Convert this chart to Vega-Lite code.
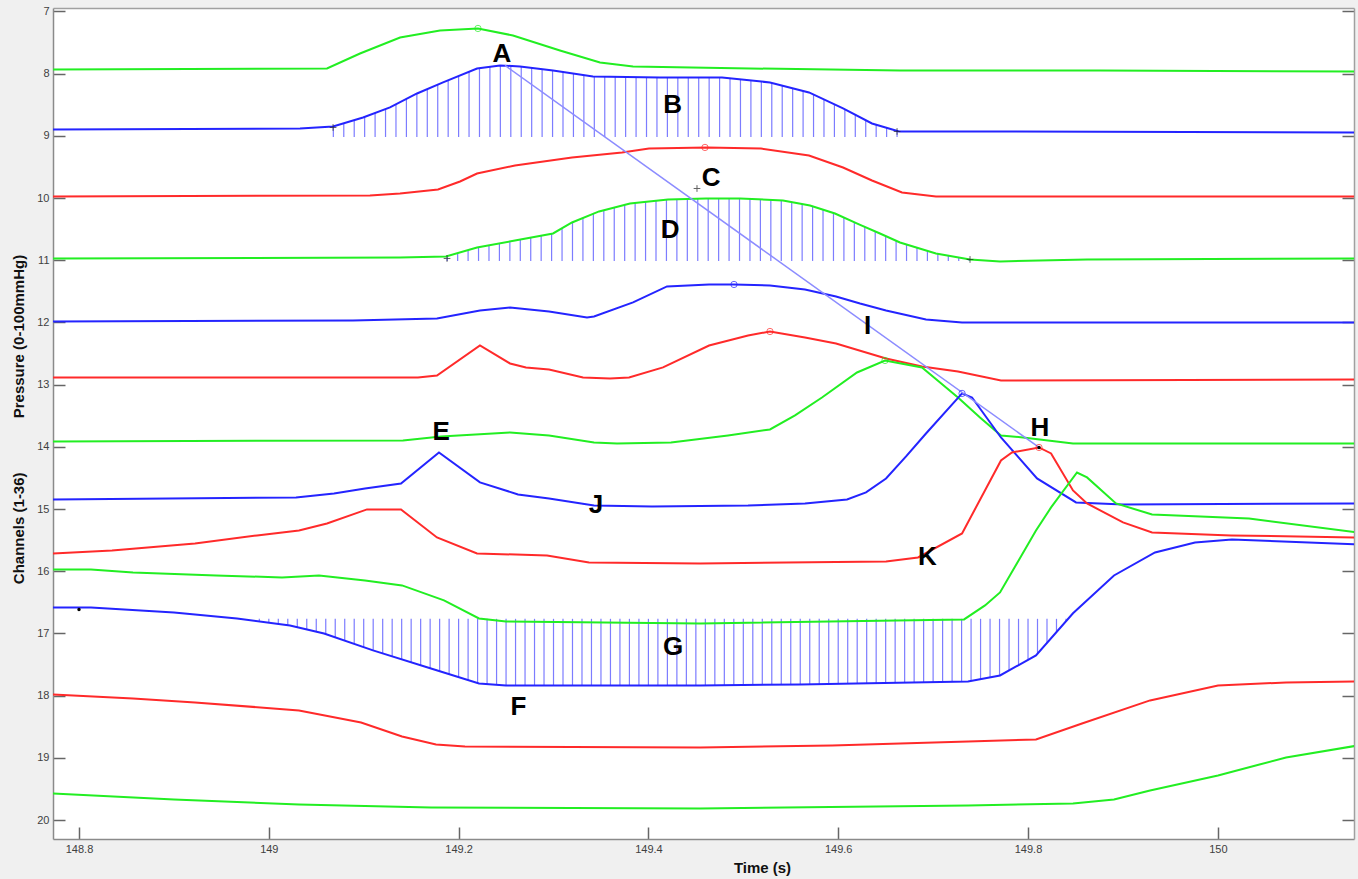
{
"$schema":"https://vega.github.io/schema/vega-lite/v6.json",
"width":1301,"height":831,
"autosize":{"type":"none"},
"padding":{"left":53,"top":8,"right":4,"bottom":40},
"background":"#f0f0f0",
"config":{"view":{"fill":"white","stroke":null},"font":"Liberation Sans",
 "axis":{"grid":false,"domainColor":"#8a8a8a","domainWidth":1.5,"tickColor":"#666666","tickWidth":1.5,"tickSize":-12,"labelColor":"#404040","labelFontSize":11,"labelFont":"Liberation Sans","titleFont":"Liberation Sans","titleFontSize":15,"titleFontWeight":"bold","titleColor":"#111111"}},
"datasets":{
"lines":[
{"s":"g1","t":148.7726,"v":7.932},{"s":"g1","t":149.0613,"v":7.916},{"s":"g1","t":149.0961,"v":7.675},{"s":"g1","t":149.1383,"v":7.418},{"s":"g1","t":149.1804,"v":7.305},{"s":"g1","t":149.2204,"v":7.273},{"s":"g1","t":149.2573,"v":7.386},{"s":"g1","t":149.3068,"v":7.627},{"s":"g1","t":149.349,"v":7.82},{"s":"g1","t":149.3838,"v":7.884},{"s":"g1","t":149.5071,"v":7.916},{"s":"g1","t":149.6651,"v":7.949},{"s":"g1","t":149.8759,"v":7.949},{"s":"g1","t":150.1477,"v":7.965},
{"s":"b2","t":148.7726,"v":8.897},{"s":"b2","t":149.0329,"v":8.881},{"s":"b2","t":149.0677,"v":8.849},{"s":"b2","t":149.0993,"v":8.704},{"s":"b2","t":149.1277,"v":8.543},{"s":"b2","t":149.1562,"v":8.318},{"s":"b2","t":149.1836,"v":8.141},{"s":"b2","t":149.2194,"v":7.916},{"s":"b2","t":149.2436,"v":7.868},{"s":"b2","t":149.2647,"v":7.884},{"s":"b2","t":149.2995,"v":7.949},{"s":"b2","t":149.3416,"v":8.045},{"s":"b2","t":149.4122,"v":8.061},{"s":"b2","t":149.4776,"v":8.061},{"s":"b2","t":149.5281,"v":8.141},{"s":"b2","t":149.5692,"v":8.302},{"s":"b2","t":149.6051,"v":8.559},{"s":"b2","t":149.6356,"v":8.801},{"s":"b2","t":149.6641,"v":8.929},{"s":"b2","t":149.7705,"v":8.929},{"s":"b2","t":150.1477,"v":8.945},
{"s":"r3","t":148.7726,"v":9.974},{"s":"r3","t":149.1066,"v":9.958},{"s":"r3","t":149.1383,"v":9.926},{"s":"r3","t":149.1783,"v":9.862},{"s":"r3","t":149.2015,"v":9.733},{"s":"r3","t":149.2194,"v":9.605},{"s":"r3","t":149.2594,"v":9.476},{"s":"r3","t":149.3195,"v":9.347},{"s":"r3","t":149.3722,"v":9.267},{"s":"r3","t":149.4006,"v":9.203},{"s":"r3","t":149.4617,"v":9.186},{"s":"r3","t":149.5187,"v":9.203},{"s":"r3","t":149.5692,"v":9.315},{"s":"r3","t":149.6051,"v":9.508},{"s":"r3","t":149.6356,"v":9.717},{"s":"r3","t":149.6672,"v":9.91},{"s":"r3","t":149.703,"v":9.974},{"s":"r3","t":150.1477,"v":9.974},
{"s":"g4","t":148.7726,"v":10.971},{"s":"g4","t":149.1383,"v":10.955},{"s":"g4","t":149.1867,"v":10.939},{"s":"g4","t":149.2194,"v":10.794},{"s":"g4","t":149.2594,"v":10.682},{"s":"g4","t":149.2995,"v":10.569},{"s":"g4","t":149.3195,"v":10.392},{"s":"g4","t":149.348,"v":10.215},{"s":"g4","t":149.3806,"v":10.087},{"s":"g4","t":149.4207,"v":10.023},{"s":"g4","t":149.4607,"v":10.006},{"s":"g4","t":149.4965,"v":10.006},{"s":"g4","t":149.5418,"v":10.039},{"s":"g4","t":149.5703,"v":10.119},{"s":"g4","t":149.5966,"v":10.248},{"s":"g4","t":149.6219,"v":10.424},{"s":"g4","t":149.644,"v":10.569},{"s":"g4","t":149.6651,"v":10.714},{"s":"g4","t":149.703,"v":10.891},{"s":"g4","t":149.7389,"v":10.987},{"s":"g4","t":149.7705,"v":11.019},{"s":"g4","t":149.8622,"v":10.987},{"s":"g4","t":150.1477,"v":10.971},
{"s":"b5","t":148.7726,"v":11.984},{"s":"b5","t":149.0887,"v":11.968},{"s":"b5","t":149.1772,"v":11.936},{"s":"b5","t":149.2225,"v":11.807},{"s":"b5","t":149.2542,"v":11.759},{"s":"b5","t":149.2953,"v":11.823},{"s":"b5","t":149.3353,"v":11.92},{"s":"b5","t":149.3427,"v":11.904},{"s":"b5","t":149.3838,"v":11.678},{"s":"b5","t":149.4196,"v":11.421},{"s":"b5","t":149.4639,"v":11.389},{"s":"b5","t":149.4902,"v":11.389},{"s":"b5","t":149.5281,"v":11.405},{"s":"b5","t":149.565,"v":11.469},{"s":"b5","t":149.5977,"v":11.582},{"s":"b5","t":149.623,"v":11.695},{"s":"b5","t":149.6504,"v":11.807},{"s":"b5","t":149.6925,"v":11.952},{"s":"b5","t":149.7305,"v":12.0},{"s":"b5","t":150.1477,"v":12.0},
{"s":"r6","t":148.7726,"v":12.884},{"s":"r6","t":149.1572,"v":12.884},{"s":"r6","t":149.1772,"v":12.852},{"s":"r6","t":149.2225,"v":12.37},{"s":"r6","t":149.2542,"v":12.659},{"s":"r6","t":149.271,"v":12.723},{"s":"r6","t":149.2953,"v":12.756},{"s":"r6","t":149.3311,"v":12.884},{"s":"r6","t":149.3595,"v":12.9},{"s":"r6","t":149.3796,"v":12.884},{"s":"r6","t":149.4154,"v":12.723},{"s":"r6","t":149.4639,"v":12.37},{"s":"r6","t":149.505,"v":12.209},{"s":"r6","t":149.5281,"v":12.145},{"s":"r6","t":149.565,"v":12.241},{"s":"r6","t":149.5977,"v":12.338},{"s":"r6","t":149.6504,"v":12.579},{"s":"r6","t":149.6883,"v":12.707},{"s":"r6","t":149.7262,"v":12.788},{"s":"r6","t":149.7715,"v":12.932},{"s":"r6","t":150.1477,"v":12.916},
{"s":"g7","t":148.7726,"v":13.913},{"s":"g7","t":149.1414,"v":13.897},{"s":"g7","t":149.1815,"v":13.833},{"s":"g7","t":149.2542,"v":13.768},{"s":"g7","t":149.2953,"v":13.817},{"s":"g7","t":149.3427,"v":13.929},{"s":"g7","t":149.3669,"v":13.945},{"s":"g7","t":149.4238,"v":13.929},{"s":"g7","t":149.4839,"v":13.817},{"s":"g7","t":149.5281,"v":13.72},{"s":"g7","t":149.5545,"v":13.495},{"s":"g7","t":149.5829,"v":13.206},{"s":"g7","t":149.6198,"v":12.804},{"s":"g7","t":149.6493,"v":12.611},{"s":"g7","t":149.6883,"v":12.723},{"s":"g7","t":149.7073,"v":12.965},{"s":"g7","t":149.7262,"v":13.206},{"s":"g7","t":149.7494,"v":13.527},{"s":"g7","t":149.7715,"v":13.817},{"s":"g7","t":149.7947,"v":13.849},{"s":"g7","t":149.8474,"v":13.945},{"s":"g7","t":150.1477,"v":13.945},
{"s":"b8","t":148.7726,"v":14.846},{"s":"b8","t":149.0287,"v":14.814},{"s":"b8","t":149.0687,"v":14.749},{"s":"b8","t":149.1014,"v":14.669},{"s":"b8","t":149.1393,"v":14.588},{"s":"b8","t":149.1793,"v":14.09},{"s":"b8","t":149.2225,"v":14.572},{"s":"b8","t":149.2626,"v":14.765},{"s":"b8","t":149.2953,"v":14.83},{"s":"b8","t":149.3427,"v":14.942},{"s":"b8","t":149.4038,"v":14.958},{"s":"b8","t":149.505,"v":14.942},{"s":"b8","t":149.565,"v":14.91},{"s":"b8","t":149.6093,"v":14.846},{"s":"b8","t":149.6293,"v":14.733},{"s":"b8","t":149.6504,"v":14.508},{"s":"b8","t":149.6715,"v":14.154},{"s":"b8","t":149.6925,"v":13.785},{"s":"b8","t":149.7305,"v":13.141},{"s":"b8","t":149.741,"v":13.206},{"s":"b8","t":149.7715,"v":13.849},{"s":"b8","t":149.8095,"v":14.508},{"s":"b8","t":149.8506,"v":14.894},{"s":"b8","t":149.9001,"v":14.926},{"s":"b8","t":150.1477,"v":14.91},
{"s":"r9","t":148.7726,"v":15.714},{"s":"r9","t":148.8348,"v":15.666},{"s":"r9","t":148.9222,"v":15.553},{"s":"r9","t":148.9876,"v":15.424},{"s":"r9","t":149.0318,"v":15.344},{"s":"r9","t":149.0613,"v":15.232},{"s":"r9","t":149.1035,"v":15.006},{"s":"r9","t":149.1393,"v":15.006},{"s":"r9","t":149.1772,"v":15.457},{"s":"r9","t":149.2194,"v":15.714},{"s":"r9","t":149.2932,"v":15.746},{"s":"r9","t":149.3374,"v":15.859},{"s":"r9","t":149.4544,"v":15.875},{"s":"r9","t":149.545,"v":15.859},{"s":"r9","t":149.6504,"v":15.842},{"s":"r9","t":149.6841,"v":15.778},{"s":"r9","t":149.7305,"v":15.392},{"s":"r9","t":149.7715,"v":14.219},{"s":"r9","t":149.7831,"v":14.09},{"s":"r9","t":149.8116,"v":14.01},{"s":"r9","t":149.8243,"v":14.106},{"s":"r9","t":149.8474,"v":14.701},{"s":"r9","t":149.8622,"v":14.91},{"s":"r9","t":149.9001,"v":15.215},{"s":"r9","t":149.9307,"v":15.376},{"s":"r9","t":150.0139,"v":15.424},{"s":"r9","t":150.1477,"v":15.457},
{"s":"g10","t":148.7726,"v":15.971},{"s":"g10","t":148.8126,"v":15.971},{"s":"g10","t":148.8569,"v":16.019},{"s":"g10","t":148.9444,"v":16.068},{"s":"g10","t":149.0139,"v":16.1},{"s":"g10","t":149.0529,"v":16.068},{"s":"g10","t":149.1014,"v":16.148},{"s":"g10","t":149.1404,"v":16.228},{"s":"g10","t":149.1846,"v":16.469},{"s":"g10","t":149.2215,"v":16.759},{"s":"g10","t":149.2499,"v":16.807},{"s":"g10","t":149.4544,"v":16.839},{"s":"g10","t":149.7326,"v":16.775},{"s":"g10","t":149.7547,"v":16.55},{"s":"g10","t":149.7705,"v":16.341},{"s":"g10","t":149.8084,"v":15.344},{"s":"g10","t":149.8243,"v":14.974},{"s":"g10","t":149.8516,"v":14.412},{"s":"g10","t":149.8622,"v":14.492},{"s":"g10","t":149.8927,"v":14.91},{"s":"g10","t":149.9307,"v":15.087},{"s":"g10","t":150.0329,"v":15.151},{"s":"g10","t":150.1477,"v":15.376},
{"s":"b11","t":148.7726,"v":16.582},{"s":"b11","t":148.8126,"v":16.582},{"s":"b11","t":148.9001,"v":16.662},{"s":"b11","t":148.9665,"v":16.759},{"s":"b11","t":149.0223,"v":16.871},{"s":"b11","t":149.0582,"v":17.0},{"s":"b11","t":149.1098,"v":17.273},{"s":"b11","t":149.1709,"v":17.563},{"s":"b11","t":149.2215,"v":17.804},{"s":"b11","t":149.2499,"v":17.836},{"s":"b11","t":149.4544,"v":17.836},{"s":"b11","t":149.5597,"v":17.82},{"s":"b11","t":149.7368,"v":17.772},{"s":"b11","t":149.7705,"v":17.675},{"s":"b11","t":149.8084,"v":17.354},{"s":"b11","t":149.8474,"v":16.675},{"s":"b11","t":149.8906,"v":16.068},{"s":"b11","t":149.9338,"v":15.698},{"s":"b11","t":149.976,"v":15.537},{"s":"b11","t":150.0149,"v":15.489},{"s":"b11","t":150.1477,"v":15.569},
{"s":"r12","t":148.7726,"v":17.981},{"s":"r12","t":148.8569,"v":18.045},{"s":"r12","t":148.9222,"v":18.109},{"s":"r12","t":149.0318,"v":18.238},{"s":"r12","t":149.0972,"v":18.431},{"s":"r12","t":149.1404,"v":18.656},{"s":"r12","t":149.1762,"v":18.785},{"s":"r12","t":149.2067,"v":18.817},{"s":"r12","t":149.4544,"v":18.833},{"s":"r12","t":149.5935,"v":18.801},{"s":"r12","t":149.7368,"v":18.736},{"s":"r12","t":149.8084,"v":18.704},{"s":"r12","t":149.8569,"v":18.447},{"s":"r12","t":149.9286,"v":18.077},{"s":"r12","t":150.0002,"v":17.836},{"s":"r12","t":150.0719,"v":17.788},{"s":"r12","t":150.1477,"v":17.772},
{"s":"g13","t":148.7726,"v":19.572},{"s":"g13","t":148.9001,"v":19.669},{"s":"g13","t":149.0318,"v":19.749},{"s":"g13","t":149.1709,"v":19.797},{"s":"g13","t":149.4544,"v":19.814},{"s":"g13","t":149.7368,"v":19.765},{"s":"g13","t":149.8474,"v":19.733},{"s":"g13","t":149.8906,"v":19.669},{"s":"g13","t":149.9286,"v":19.524},{"s":"g13","t":150.0002,"v":19.283},{"s":"g13","t":150.0719,"v":18.994},{"s":"g13","t":150.1477,"v":18.801}
],
"hatch":[
{"t":149.068,"a":8.849,"b":9.018},{"t":149.079,"a":8.799,"b":9.018},{"t":149.090,"a":8.748,"b":9.018},{"t":149.101,"a":8.696,"b":9.018},{"t":149.112,"a":8.633,"b":9.018},{"t":149.123,"a":8.571,"b":9.018},{"t":149.134,"a":8.495,"b":9.018},{"t":149.145,"a":8.408,"b":9.018},{"t":149.156,"a":8.322,"b":9.018},{"t":149.167,"a":8.249,"b":9.018},{"t":149.178,"a":8.178,"b":9.018},{"t":149.189,"a":8.109,"b":9.018},{"t":149.200,"a":8.040,"b":9.018},{"t":149.211,"a":7.971,"b":9.018},{"t":149.222,"a":7.912,"b":9.018},{"t":149.233,"a":7.889,"b":9.018},{"t":149.244,"a":7.868,"b":9.018},{"t":149.255,"a":7.876,"b":9.018},{"t":149.266,"a":7.886,"b":9.018},{"t":149.277,"a":7.907,"b":9.018},{"t":149.288,"a":7.926,"b":9.018},{"t":149.299,"a":7.947,"b":9.018},{"t":149.310,"a":7.973,"b":9.018},{"t":149.321,"a":7.997,"b":9.018},{"t":149.332,"a":8.023,"b":9.018},{"t":149.343,"a":8.045,"b":9.018},{"t":149.354,"a":8.048,"b":9.018},{"t":149.365,"a":8.050,"b":9.018},{"t":149.376,"a":8.053,"b":9.018},{"t":149.387,"a":8.055,"b":9.018},{"t":149.398,"a":8.058,"b":9.018},{"t":149.409,"a":8.061,"b":9.018},{"t":149.420,"a":8.061,"b":9.018},{"t":149.431,"a":8.061,"b":9.018},{"t":149.442,"a":8.061,"b":9.018},{"t":149.453,"a":8.061,"b":9.018},{"t":149.464,"a":8.061,"b":9.018},{"t":149.475,"a":8.061,"b":9.018},{"t":149.486,"a":8.074,"b":9.018},{"t":149.497,"a":8.092,"b":9.018},{"t":149.508,"a":8.109,"b":9.018},{"t":149.519,"a":8.127,"b":9.018},{"t":149.530,"a":8.150,"b":9.018},{"t":149.541,"a":8.193,"b":9.018},{"t":149.552,"a":8.236,"b":9.018},{"t":149.563,"a":8.278,"b":9.018},{"t":149.574,"a":8.338,"b":9.018},{"t":149.585,"a":8.416,"b":9.018},{"t":149.596,"a":8.495,"b":9.018},{"t":149.607,"a":8.576,"b":9.018},{"t":149.618,"a":8.664,"b":9.018},{"t":149.629,"a":8.751,"b":9.018},{"t":149.640,"a":8.822,"b":9.018},{"t":149.651,"a":8.871,"b":9.018},{"t":149.662,"a":8.921,"b":9.018},
{"t":149.188,"a":10.934,"b":11.011},{"t":149.199,"a":10.886,"b":11.011},{"t":149.210,"a":10.836,"b":11.011},{"t":149.221,"a":10.791,"b":11.011},{"t":149.232,"a":10.760,"b":11.011},{"t":149.243,"a":10.730,"b":11.011},{"t":149.254,"a":10.698,"b":11.011},{"t":149.265,"a":10.667,"b":11.011},{"t":149.276,"a":10.635,"b":11.011},{"t":149.287,"a":10.605,"b":11.011},{"t":149.298,"a":10.574,"b":11.011},{"t":149.309,"a":10.487,"b":11.011},{"t":149.320,"a":10.391,"b":11.011},{"t":149.331,"a":10.322,"b":11.011},{"t":149.342,"a":10.254,"b":11.011},{"t":149.353,"a":10.196,"b":11.011},{"t":149.364,"a":10.153,"b":11.011},{"t":149.375,"a":10.109,"b":11.011},{"t":149.386,"a":10.079,"b":11.011},{"t":149.397,"a":10.061,"b":11.011},{"t":149.408,"a":10.043,"b":11.011},{"t":149.419,"a":10.026,"b":11.011},{"t":149.430,"a":10.019,"b":11.011},{"t":149.441,"a":10.014,"b":11.011},{"t":149.452,"a":10.010,"b":11.011},{"t":149.463,"a":10.006,"b":11.011},{"t":149.474,"a":10.006,"b":11.011},{"t":149.485,"a":10.006,"b":11.011},{"t":149.496,"a":10.006,"b":11.011},{"t":149.507,"a":10.014,"b":11.011},{"t":149.518,"a":10.021,"b":11.011},{"t":149.529,"a":10.029,"b":11.011},{"t":149.540,"a":10.037,"b":11.011},{"t":149.551,"a":10.064,"b":11.011},{"t":149.562,"a":10.095,"b":11.011},{"t":149.573,"a":10.132,"b":11.011},{"t":149.584,"a":10.185,"b":11.011},{"t":149.595,"a":10.240,"b":11.011},{"t":149.606,"a":10.312,"b":11.011},{"t":149.617,"a":10.389,"b":11.011},{"t":149.628,"a":10.463,"b":11.011},{"t":149.639,"a":10.535,"b":11.011},{"t":149.650,"a":10.609,"b":11.011},{"t":149.661,"a":10.685,"b":11.011},{"t":149.672,"a":10.746,"b":11.011},{"t":149.683,"a":10.796,"b":11.011},{"t":149.694,"a":10.847,"b":11.011},{"t":149.705,"a":10.895,"b":11.011},{"t":149.716,"a":10.924,"b":11.011},{"t":149.727,"a":10.955,"b":11.011},{"t":149.738,"a":10.984,"b":11.011},
{"t":148.99,"a":16.765,"b":16.805},{"t":149.00,"a":16.765,"b":16.826},{"t":149.01,"a":16.765,"b":16.846},{"t":149.02,"a":16.765,"b":16.866},{"t":149.03,"a":16.765,"b":16.899},{"t":149.04,"a":16.765,"b":16.934},{"t":149.05,"a":16.765,"b":16.971},{"t":149.06,"a":16.765,"b":17.010},{"t":149.07,"a":16.765,"b":17.063},{"t":149.08,"a":16.765,"b":17.116},{"t":149.09,"a":16.765,"b":17.169},{"t":149.10,"a":16.765,"b":17.222},{"t":149.11,"a":16.765,"b":17.275},{"t":149.12,"a":16.765,"b":17.322},{"t":149.13,"a":16.765,"b":17.368},{"t":149.14,"a":16.765,"b":17.416},{"t":149.15,"a":16.765,"b":17.465},{"t":149.16,"a":16.765,"b":17.511},{"t":149.17,"a":16.765,"b":17.559},{"t":149.18,"a":16.765,"b":17.606},{"t":149.19,"a":16.765,"b":17.654},{"t":149.20,"a":16.765,"b":17.701},{"t":149.21,"a":16.765,"b":17.749},{"t":149.22,"a":16.765,"b":17.797},{"t":149.23,"a":16.765,"b":17.813},{"t":149.24,"a":16.765,"b":17.825},
{"t":149.25,"a":16.765,"b":17.836},{"t":149.26,"a":16.765,"b":17.836},{"t":149.27,"a":16.765,"b":17.836},{"t":149.28,"a":16.765,"b":17.836},{"t":149.29,"a":16.765,"b":17.836},{"t":149.30,"a":16.765,"b":17.836},{"t":149.31,"a":16.765,"b":17.836},{"t":149.32,"a":16.765,"b":17.836},{"t":149.33,"a":16.765,"b":17.836},{"t":149.34,"a":16.765,"b":17.836},{"t":149.35,"a":16.765,"b":17.836},{"t":149.36,"a":16.765,"b":17.836},{"t":149.37,"a":16.765,"b":17.836},{"t":149.38,"a":16.765,"b":17.836},{"t":149.39,"a":16.765,"b":17.836},{"t":149.40,"a":16.765,"b":17.836},{"t":149.41,"a":16.765,"b":17.836},{"t":149.42,"a":16.765,"b":17.836},{"t":149.43,"a":16.765,"b":17.836},{"t":149.44,"a":16.765,"b":17.836},{"t":149.45,"a":16.765,"b":17.836},
{"t":149.46,"a":16.765,"b":17.834},{"t":149.47,"a":16.765,"b":17.834},{"t":149.48,"a":16.765,"b":17.833},{"t":149.49,"a":16.765,"b":17.831},{"t":149.50,"a":16.765,"b":17.830},{"t":149.51,"a":16.765,"b":17.828},{"t":149.52,"a":16.765,"b":17.826},{"t":149.53,"a":16.765,"b":17.825},{"t":149.54,"a":16.765,"b":17.823},{"t":149.55,"a":16.765,"b":17.822},{"t":149.56,"a":16.765,"b":17.820},{"t":149.57,"a":16.765,"b":17.817},{"t":149.58,"a":16.765,"b":17.815},{"t":149.59,"a":16.765,"b":17.812},{"t":149.60,"a":16.765,"b":17.809},{"t":149.61,"a":16.765,"b":17.806},{"t":149.62,"a":16.765,"b":17.804},{"t":149.63,"a":16.765,"b":17.801},{"t":149.64,"a":16.765,"b":17.797},{"t":149.65,"a":16.765,"b":17.796},{"t":149.66,"a":16.765,"b":17.793},{"t":149.67,"a":16.765,"b":17.790},{"t":149.68,"a":16.765,"b":17.788},{"t":149.69,"a":16.765,"b":17.785},{"t":149.70,"a":16.765,"b":17.781},{"t":149.71,"a":16.765,"b":17.780},{"t":149.72,"a":16.765,"b":17.777},{"t":149.73,"a":16.765,"b":17.773},{"t":149.74,"a":16.765,"b":17.762},{"t":149.75,"a":16.765,"b":17.733},{"t":149.76,"a":16.765,"b":17.706},{"t":149.77,"a":16.765,"b":17.677},{"t":149.78,"a":16.765,"b":17.593},{"t":149.79,"a":16.765,"b":17.510},{"t":149.80,"a":16.765,"b":17.424},{"t":149.81,"a":16.765,"b":17.325},{"t":149.82,"a":16.765,"b":17.151},{"t":149.83,"a":16.765,"b":16.977},{"t":149.84,"a":16.765,"b":16.803}
],
"diag":[{"t":149.2489,"v":7.868},{"t":149.8116,"v":14.01}],
"circles":[{"s":"g1","t":149.2204,"v":7.273},{"s":"r3","t":149.4596,"v":9.186},{"s":"b5","t":149.4902,"v":11.389},{"s":"r6","t":149.5281,"v":12.145},{"s":"g7","t":149.6493,"v":12.611},{"s":"b8","t":149.7305,"v":13.141},{"s":"r9","t":149.8116,"v":14.01}],
"plus":[{"t":149.0677,"v":8.865},{"t":149.662,"v":8.929},{"t":149.1878,"v":10.971},{"t":149.7389,"v":10.987},{"t":149.4512,"v":9.846}],
"dots":[{"t":148.8,"v":16.614},{"t":149.8116,"v":14.01}],
"labels":[{"lab":"A","t":149.2457,"v":7.691},{"lab":"B","t":149.4256,"v":8.511},{"lab":"C","t":149.466,"v":9.685},{"lab":"D","t":149.4228,"v":10.521},{"lab":"I","t":149.6309,"v":12.064},{"lab":"E","t":149.1815,"v":13.768},{"lab":"H","t":149.8126,"v":13.704},{"lab":"J","t":149.3448,"v":14.942},{"lab":"K","t":149.6941,"v":15.778},{"lab":"G","t":149.4259,"v":17.225},{"lab":"F","t":149.2631,"v":18.19}]
},
"layer":[
{"layer":[
 {"data":{"name":"hatch"},"mark":{"type":"rule","color":"#6565ff","strokeWidth":1.2,"opacity":0.85,"clip":true},
  "encoding":{"x":{"field":"t","type":"quantitative"},"y":{"field":"a","type":"quantitative"},"y2":{"field":"b"}}},
 {"data":{"name":"lines"},"mark":{"type":"line","strokeWidth":2,"clip":true},
  "encoding":{"x":{"field":"t","type":"quantitative","scale":{"domain":[148.7726,150.1435],"nice":false,"zero":false},
     "axis":{"values":[148.8,149,149.2,149.4,149.6,149.8,150],"format":"~g","labelPadding":16,"title":"Time (s)","titleX":709,"titleY":28,"titleBaseline":"middle","titleAlign":"center"}},
   "y":{"field":"v","type":"quantitative","scale":{"domain":[6.944,20.305],"reverse":true,"nice":false,"zero":false},
     "axis":{"values":[7,8,9,10,11,12,13,14,15,16,17,18,19,20],"format":"d","labelPadding":16,"title":"Channels (1-36)\u00a0\u00a0\u00a0\u00a0\u00a0\u00a0\u00a0\u00a0\u00a0\u00a0\u00a0\u00a0\u00a0Pressure (0-100mmHg)","titleX":-35,"titleY":411,"titleAngle":270,"titleBaseline":"middle","titleAlign":"center"}},
   "color":{"field":"s","type":"nominal","legend":null,"scale":{"domain":["g1","b2","r3","g4","b5","r6","g7","b8","r9","g10","b11","r12","g13"],"range":["#22ee22","#2424ff","#ff2a2a","#22ee22","#2424ff","#ff2a2a","#22ee22","#2424ff","#ff2a2a","#22ee22","#2424ff","#ff2a2a","#22ee22"]}},
   "order":{"field":"t","type":"quantitative"}}},
 {"data":{"name":"diag"},"mark":{"type":"line","color":"#8c8cff","strokeWidth":1.5,"clip":true},
  "encoding":{"x":{"field":"t","type":"quantitative"},"y":{"field":"v","type":"quantitative"}}},
 {"data":{"name":"circles"},"mark":{"type":"point","shape":"circle","filled":false,"size":40,"strokeWidth":1},
  "encoding":{"x":{"field":"t","type":"quantitative"},"y":{"field":"v","type":"quantitative"},"color":{"field":"s","type":"nominal","legend":null}}},
 {"data":{"name":"plus"},"mark":{"type":"point","shape":"M-1,0L1,0M0,-1L0,1","filled":false,"size":45,"strokeWidth":1,"color":"#222222"},
  "encoding":{"x":{"field":"t","type":"quantitative"},"y":{"field":"v","type":"quantitative"}}},
 {"data":{"name":"dots"},"mark":{"type":"point","shape":"circle","filled":true,"size":12,"color":"#000000","opacity":1},
  "encoding":{"x":{"field":"t","type":"quantitative"},"y":{"field":"v","type":"quantitative"}}},
 {"data":{"name":"labels"},"mark":{"type":"text","fontSize":26,"fontWeight":"bold","font":"Liberation Sans","color":"#000000","align":"center","baseline":"middle"},
  "encoding":{"x":{"field":"t","type":"quantitative"},"y":{"field":"v","type":"quantitative"},"text":{"field":"lab"}}}
]},
{"data":{"name":"diag"},"mark":{"type":"line","opacity":0},
 "encoding":{"x":{"field":"t","type":"quantitative","scale":{"domain":[148.7726,150.1435],"nice":false,"zero":false},"axis":{"orient":"top","values":[148.8,149,149.2,149.4,149.6,149.8,150],"labels":false,"ticks":false,"title":null,"domainColor":"#a0a0a0","domainWidth":1.5}},
  "y":{"field":"v","type":"quantitative","scale":{"domain":[6.944,20.305],"reverse":true,"nice":false,"zero":false},"axis":{"orient":"right","values":[7,8,9,10,11,12,13,14,15,16,17,18,19,20],"labels":false,"title":null,"domainColor":"#a0a0a0","domainWidth":1.5}}}}
],
"resolve":{"scale":{"x":"independent","y":"independent"}}
}
